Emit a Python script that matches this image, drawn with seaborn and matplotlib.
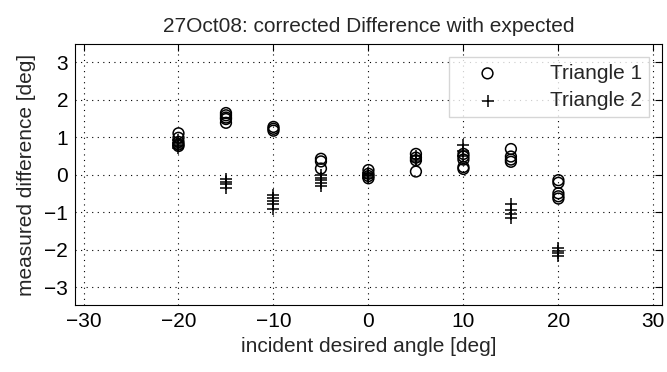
import numpy as np
import pandas as pd
import matplotlib
matplotlib.use("Agg")
import matplotlib.pyplot as plt
import seaborn as sns

# data
angles_t1 = [-20]*5 + [-15]*5 + [-10]*3 + [-5]*3 + [0]*4 + [5]*4 + [10]*5 + [15]*4 + [20]*5
diff_t1 = [1.10, 0.98, 0.87, 0.80, 0.76,
           1.64, 1.58, 1.52, 1.48, 1.38,
           1.27, 1.22, 1.17,
           0.42, 0.35, 0.16,
           0.12, 0.02, -0.04, -0.10,
           0.55, 0.45, 0.38, 0.08,
           0.55, 0.48, 0.40, 0.20, 0.15,
           0.68, 0.48, 0.40, 0.34,
           -0.15, -0.22, -0.50, -0.58, -0.64]
angles_t2 = [-20]*5 + [-15]*4 + [-10]*5 + [-5]*5 + [0]*4 + [5]*3 + [10]*3 + [15]*4 + [20]*4
diff_t2 = [0.92, 0.85, 0.80, 0.75, 0.70,
           -0.12, -0.20, -0.25, -0.35,
           -0.55, -0.62, -0.70, -0.78, -0.92,
           -0.02, -0.08, -0.15, -0.22, -0.30,
           0.05, 0.00, -0.05, -0.10,
           0.50, 0.42, 0.35,
           0.78, 0.62, 0.50,
           -0.78, -0.95, -1.05, -1.15,
           -1.95, -2.03, -2.08, -2.17]
xticks = [-30, -20, -10, 0, 10, 20, 30]
yticks = [-3, -2, -1, 0, 1, 2, 3]

sns.set_style("white")
plt.rcParams['font.family'] = ['Liberation Sans', 'DejaVu Sans']

df1 = pd.DataFrame({"angle": angles_t1, "diff": diff_t1})
df2 = pd.DataFrame({"angle": angles_t2, "diff": diff_t2})

fig = plt.figure(figsize=(6.67, 3.72), dpi=100)
ax = fig.add_axes([0.1124, 0.180, 0.880, 0.7016])

sns.scatterplot(data=df1, x="angle", y="diff", marker="o", s=60,
                facecolors="none", edgecolor="black", linewidth=1.1,
                label="Triangle 1", ax=ax)
sns.scatterplot(data=df2, x="angle", y="diff", marker="+", s=80,
                color="black", linewidth=1.1, label="Triangle 2", ax=ax)

ax.set_xlim(-30.9, 30.9)
ax.set_ylim(-3.48, 3.48)
ax.set_xticks(xticks)
ax.set_yticks(yticks)
ax.set_xticklabels(["\u221230", "\u221220", "\u221210", "0", "10", "20", "30"])
ax.set_yticklabels(["\u22123", "\u22122", "\u22121", "0", "1", "2", "3"])
ax.grid(True, color="black", linestyle=(0, (1, 4)), linewidth=0.8)
ax.tick_params(direction="in", length=5, width=0.8, top=True, right=True,
               labelsize=15, colors="black", pad=5)
for sp in ax.spines.values():
    sp.set_color("black")
    sp.set_linewidth(0.8)

ax.set_xlabel("incident desired angle [deg]", fontsize=15, labelpad=4)
ax.set_ylabel("measured difference [deg]", fontsize=15, labelpad=6)
ax.set_title("27Oct08: corrected Difference with expected", fontsize=15, pad=9)

leg = ax.legend(loc="upper right", fontsize=15, frameon=True, fancybox=False,
                edgecolor="#cccccc", handletextpad=1.5, borderpad=0.35,
                labelspacing=0.4, handlelength=3.0, borderaxespad=0.6)
leg.get_frame().set_linewidth(1.0)

fig.savefig("out.png", dpi=100)
